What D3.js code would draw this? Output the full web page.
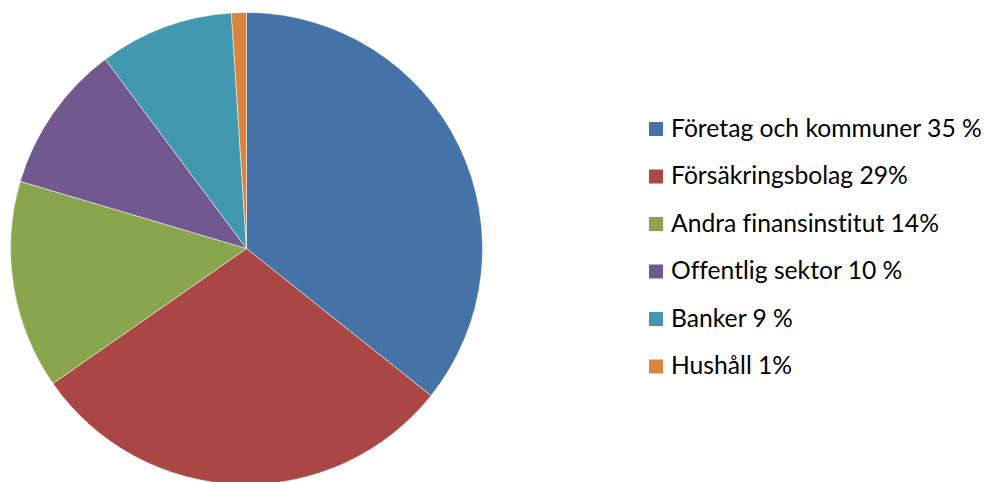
<!DOCTYPE html>
<html>
<head>
<meta charset="utf-8">
<script src="https://cdn.jsdelivr.net/npm/d3@7"></script>
<style>
  html, body { margin: 0; padding: 0; background: #fff; }
  svg { display: block; }
  text { font-variant-ligatures: none; font-feature-settings: "liga" 0; }
</style>
</head>
<body>
<svg id="chart" width="984" height="482"></svg>
<script>
// Sector shares (percent) and their legend labels
const categories = [
  "Företag och kommuner 35 %",
  "Försäkringsbolag 29%",
  "Andra finansinstitut 14%",
  "Offentlig sektor 10 %",
  "Banker 9 %",
  "Hushåll 1%"
];
const values = [35, 29, 14, 10, 9, 1];
const colors = ["#4572A7", "#AA4643", "#89A54E", "#71588F", "#4198AF", "#DB843D"];

const svg = d3.select("#chart");
const cx = 246.5, cy = 248.5, radius = 236;

const data = categories.map((c, i) => ({ label: c, value: values[i], color: colors[i] }));

const pie = d3.pie().sort(null).value(d => d.value);
const arc = d3.arc().innerRadius(0).outerRadius(radius);

svg.append("g")
  .attr("transform", `translate(${cx},${cy})`)
  .selectAll("path")
  .data(pie(data))
  .join("path")
  .attr("d", arc)
  .attr("fill", d => d.data.color)
  .attr("stroke", "#ffffff")
  .attr("stroke-width", 0.6)
  .attr("stroke-opacity", 0.8);

// Legend
const rowY = d3.scalePoint().domain(d3.range(data.length)).range([129, 366.5]);
const legend = svg.append("g");
const rows = legend.selectAll("g")
  .data(data)
  .join("g")
  .attr("transform", (d, i) => `translate(649,${rowY(i)})`);

rows.append("rect")
  .attr("x", 0).attr("y", -7)
  .attr("width", 14).attr("height", 14)
  .attr("fill", d => d.color);

const texts = rows.append("text")
  .attr("x", 22).attr("y", 7.5)
  .attr("font-family", "Lato, 'Open Sans', sans-serif")
  .attr("font-size", 20)
  .attr("fill", "#000")
  .text(d => d.label);

// Size the legend type so the longest entry spans the available width
const w0 = texts.nodes()[0].getComputedTextLength();
const fs = 20 * 311 / w0;
texts.attr("font-size", fs);
</script>
</body>
</html>
